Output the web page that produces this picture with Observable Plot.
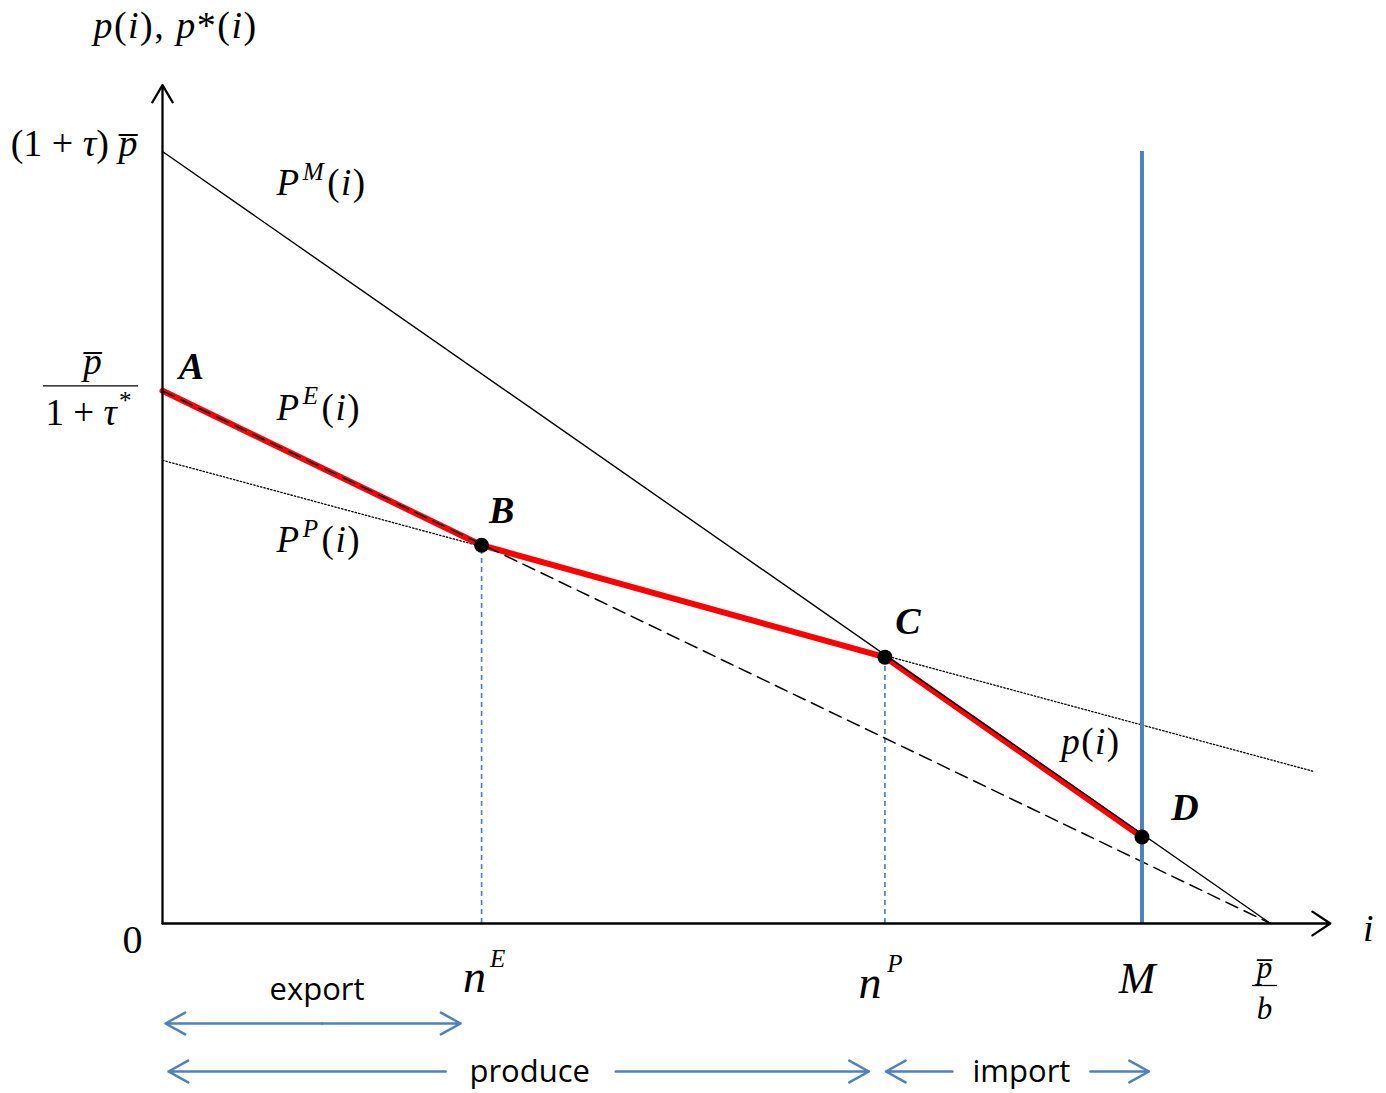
<!DOCTYPE html>
<html><head><meta charset="utf-8">
<script src="https://cdn.jsdelivr.net/npm/d3@7"></script>
<script src="https://cdn.jsdelivr.net/npm/@observablehq/plot@0.6"></script>
<style>html,body{margin:0;padding:0;background:#fff;} svg{display:block;}</style>
</head><body><div id="chart"></div>
<script>
// ---------- data ----------
// kink points of the equilibrium price schedule p(i)
const pointNames = ["A", "B", "C", "D"];
const pointI = [0, 0.288, 0.652, 0.884];
const pointP = [0.690, 0.490, 0.345, 0.112];

// price schedules: value at i = 0 and end point
const scheduleNames = ["PM", "PE", "PP"];
const scheduleStartP = [1.0, 0.690, 0.600];
const scheduleEndI = [1.0, 1.0, 1.039];
const scheduleEndP = [0, 0, 0.197];

// landmarks on the i axis: n^E, n^P, M, p̄/b
const landmarkNames = ["nE", "nP", "M", "pbar/b"];
const landmarkI = [0.288, 0.652, 0.884, 1.0];

// axis extents
const axisEndI = 1.054;
const axisEndP = 1.086;

// ---------- derived tables ----------
const points = pointNames.map((name, k) => ({name, i: pointI[k], p: pointP[k]}));
const schedules = scheduleNames.flatMap((name, k) => [
  {name, i: 0, p: scheduleStartP[k]},
  {name, i: scheduleEndI[k], p: scheduleEndP[k]}
]);
const sched = name => schedules.filter(d => d.name === name);
const [nE, nP, M, iBar] = landmarkI;
const topP = scheduleStartP[0];

const BLUE = "#4f81bd";
const SERIF = "Liberation Serif, Times New Roman, serif";
const SANS = "Open Sans, sans-serif";

function label(i, p, text, o = {}) {
  return Plot.text([{i, p, text}], {x: "i", y: "p", text: "text", fontFamily: SERIF, fontSize: 34, fill: "black", ...o});
}
function arrow(a, b, o = {}) {
  return Plot.arrow([{a, b, p: 0}], {x1: "a", x2: "b", y1: "p", y2: "p", stroke: BLUE, strokeWidth: 2.5, headLength: 13.5, headAngle: 58, ...o});
}
const midE = nE / 2, midP = nP / 2, midI = (nP + M) / 2;
const pbar = "p\u0305";
const bold = {fontWeight: "bold", fontStyle: "italic", fontSize: 38};

const chart = Plot.plot({
  width: 1386, height: 1093, margin: 0,
  x: {domain: [0, 1], range: [162, 1270], axis: null},
  y: {domain: [0, 1], range: [923, 151], axis: null},
  style: {background: "white"},
  marks: [
    // P^P dotted (under red)
    Plot.line(sched("PP"), {x: "i", y: "p", stroke: "black", strokeWidth: 1.3, strokeDasharray: "1.5,2"}),
    // blue dashed guides
    Plot.ruleX(points.slice(1, 3), {x: "i", y1: 0, y2: "p", stroke: BLUE, strokeWidth: 1.7, strokeDasharray: "5,4"}),
    // red p(i)
    Plot.line(points, {x: "i", y: "p", stroke: "#ff0000", strokeWidth: 6}),
    // P^M solid, P^E dashed
    Plot.line(sched("PM"), {x: "i", y: "p", stroke: "black", strokeWidth: 1.4}),
    Plot.line(sched("PE"), {x: "i", y: "p", stroke: "black", strokeWidth: 1.5, strokeDasharray: "13,7"}),
    // M vertical
    Plot.ruleX([M], {y1: 0, y2: topP, stroke: BLUE, strokeWidth: 4}),
    // axes with arrows
    Plot.arrow([{a: 0, b: 0, p1: 0, p2: axisEndP}], {x1: "a", x2: "b", y1: "p1", y2: "p2", stroke: "black", strokeWidth: 2.3, headLength: 13, headAngle: 61}),
    Plot.arrow([{a: 0, b: axisEndI, p: 0}], {x1: "a", x2: "b", y1: "p", y2: "p", stroke: "black", strokeWidth: 2.3, headLength: 14, headAngle: 67}),
    // points
    Plot.dot(points.slice(1), {x: "i", y: "p", r: 7.5, fill: "black"}),
    // axis titles and tick labels
    label(0, axisEndP, "_p_(_i_), _p_*(_i_)", {dx: 13, dy: -59, fontSize: 38}),
    label(0, topP, "(1 + _τ_) _" + pbar + "_", {textAnchor: "end", dx: -25, dy: -8, fontSize: 38}),
    label(0, pointP[0], "_" + pbar + "_", {dx: -70, dy: -29, fontSize: 37}),
    Plot.ruleY([pointP[0]], {x1: 0, x2: 0, dy: -5, insetLeft: -119, insetRight: 24, stroke: "black", strokeWidth: 1.3}),
    label(0, pointP[0], "1 + _τ_^*", {dx: -74, dy: 22, fontSize: 37}),
    label(0, 0, "0", {dx: -30, dy: 17, fontSize: 40}),
    label(axisEndI, 0, "_i_", {dx: 38, dy: 5, fontSize: 38}),
    label(nE, 0, "_n_", {dx: -7, dy: 54, fontSize: 46}),
    label(nE, 0, "_E_", {dx: 16, dy: 35, fontSize: 25}),
    label(nP, 0, "_n_", {dx: -15, dy: 60, fontSize: 46}),
    label(nP, 0, "_P_", {dx: 10, dy: 40, fontSize: 25}),
    label(M, 0, "_M_", {dx: -5, dy: 55, fontSize: 44}),
    label(iBar, 0, "_" + pbar + "_", {dx: -6, dy: 45, fontSize: 31}),
    Plot.ruleY([0], {x1: iBar, x2: iBar, dy: 62, insetLeft: -18, insetRight: -7, stroke: "black", strokeWidth: 1.3}),
    label(iBar, 0, "_b_", {dx: -6, dy: 86, fontSize: 31}),
    // point labels
    label(pointI[0], pointP[0], "A", {dx: 29, dy: -24, ...bold}),
    label(pointI[1], pointP[1], "B", {dx: 20, dy: -34, ...bold}),
    label(pointI[2], pointP[2], "C", {dx: 23, dy: -35, ...bold}),
    label(pointI[3], pointP[3], "D", {dx: 43, dy: -29, ...bold}),
    // schedule labels
    label(0, scheduleStartP[0], "_P^M_(_i_)", {textAnchor: "start", dx: 114, dy: 32, fontSize: 37}),
    label(0, scheduleStartP[1], "_P^E_(_i_)", {textAnchor: "start", dx: 114, dy: 17, fontSize: 37}),
    label(0, scheduleStartP[2], "_P^P_(_i_)", {textAnchor: "start", dx: 114, dy: 80, fontSize: 37}),
    label(pointI[3], pointP[3], "_p_(_i_)", {dx: -51, dy: -95, fontSize: 37}),
    // regime arrows
    label(midE, 0, "export", {fontFamily: SANS, fontSize: 31, dx: -5, dy: 67}),
    arrow(midE, 0, {dy: 100, insetEnd: 3}),
    arrow(midE, nE, {dy: 100, insetEnd: 21}),
    label(midP, 0, "produce", {fontFamily: SANS, fontSize: 31, dx: 6, dy: 149}),
    arrow(midP, 0, {dy: 148, insetStart: 78, insetEnd: 6}),
    arrow(midP, nP, {dy: 148, insetStart: 92, insetEnd: 16}),
    label(midI, 0, "import", {fontFamily: SANS, fontSize: 31, dx: 8, dy: 149}),
    arrow(midI, nP, {dy: 148, insetStart: 61, insetEnd: 1}),
    arrow(midI, M, {dy: 148, insetStart: 77, insetEnd: -7})
  ]
});
document.getElementById("chart").append(chart);

// rich text: "_" toggles italic, "^x" makes x a superscript
const SVGNS = "http://www.w3.org/2000/svg";
chart.querySelectorAll("text").forEach(t => {
  const s = t.textContent;
  if (!/[_^]/.test(s)) return;
  const fs = parseFloat(getComputedStyle(t).fontSize);
  if (s.includes("(_i_)")) t.setAttribute("letter-spacing", "1.5");
  t.textContent = "";
  let italic = false, shifted = false, buf = "";
  const add = (txt, sup) => {
    const ts = document.createElementNS(SVGNS, "tspan");
    ts.textContent = txt;
    ts.setAttribute("font-style", italic ? "italic" : "normal");
    if (sup) { ts.setAttribute("font-size", fs * 0.68); ts.setAttribute("dy", -fs * 0.42); ts.setAttribute("dx", fs * 0.06); shifted = true; }
    else if (shifted) { ts.setAttribute("dy", fs * 0.42); ts.setAttribute("dx", fs * 0.05); shifted = false; }
    t.appendChild(ts);
  };
  for (let k = 0; k < s.length; k++) {
    const c = s[k];
    if (c === "_") { if (buf) add(buf, false); buf = ""; italic = !italic; }
    else if (c === "^") { if (buf) add(buf, false); buf = ""; add(s[k + 1], true); k++; }
    else buf += c;
  }
  if (buf) add(buf, false);
});
</script>
</body></html>
